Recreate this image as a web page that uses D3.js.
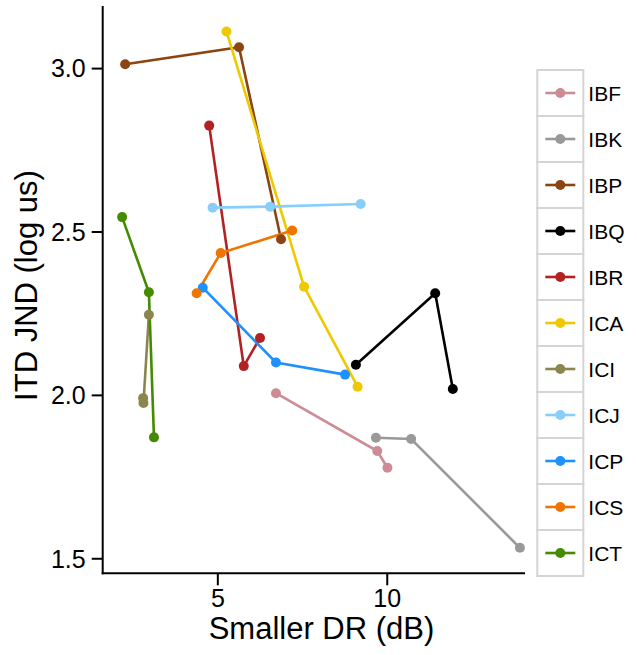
<!DOCTYPE html>
<html>
<head>
<meta charset="utf-8">
<script src="https://cdn.jsdelivr.net/npm/d3@7"></script>
<style>
  body { margin: 0; background: #fff; }
  text { font-family: 'Liberation Sans', Arial, sans-serif; fill: #000; }
</style>
</head>
<body>
<div id="chart"></div>
<script>
// Subjects and their colours
const subjects = ['IBF', 'IBK', 'IBP', 'IBQ', 'IBR', 'ICA', 'ICI', 'ICJ', 'ICP', 'ICS', 'ICT'];
const colors = ['#CD8C95', '#999999', '#8B4513', '#000000', '#B22222', '#EEC900',
  '#8B864E', '#87CEFA', '#1E90FF', '#EE7600', '#458B00'];

// Smaller DR (dB), one array per subject (same order as subjects)
const smallerDR = [
  [6.73, 9.72, 10.02],
  [9.68, 10.72, 13.93],
  [2.28, 5.64, 6.88],
  [9.09, 11.43, 11.95],
  [4.76, 5.78, 6.26],
  [5.27, 7.56, 9.14],
  [2.81, 2.82, 2.98],
  [4.86, 6.56, 9.23],
  [4.57, 6.73, 8.77],
  [4.39, 5.10, 7.21],
  [2.19, 2.98, 3.13]
];

// ITD JND (log us)
const itdJnd = [
  [2.005, 1.828, 1.777],
  [1.869, 1.865, 1.532],
  [3.012, 3.064, 2.476],
  [2.092, 2.311, 2.018],
  [2.824, 2.088, 2.174],
  [3.112, 2.331, 2.025],
  [1.990, 1.975, 2.245],
  [2.573, 2.576, 2.584],
  [2.328, 2.099, 2.062],
  [2.311, 2.434, 2.503],
  [2.544, 2.314, 1.870]
];

const xTicks = [5, 10];
const yTicks = [1.5, 2.0, 2.5, 3.0];

const svgW = 637;
const svgH = 655;
const plot = { left: 102.7, right: 525, top: 6, bottom: 573.3 };

const svg = d3.select('#chart').append('svg')
  .attr('width', svgW)
  .attr('height', svgH);

const x = d3.scaleLinear().domain([1.617, 14.08]).range([plot.left, plot.right]);
const y = d3.scaleLinear().domain([1.454, 3.19]).range([plot.bottom, plot.top]);

const series = subjects.map((s, i) => ({
  name: s,
  color: colors[i],
  points: smallerDR[i].map((v, j) => [v, itdJnd[i][j]])
}));

// Lines first, then points
const line = d3.line().x(d => x(d[0])).y(d => y(d[1]));
const gLines = svg.append('g').attr('class', 'lines');
series.forEach((s) => {
  gLines.append('path')
    .attr('d', line(s.points))
    .attr('fill', 'none')
    .attr('stroke', s.color)
    .attr('stroke-width', 2.6);
});
const gPts = svg.append('g').attr('class', 'points');
series.forEach((s) => {
  s.points.forEach((p) => {
    gPts.append('circle')
      .attr('cx', x(p[0]))
      .attr('cy', y(p[1]))
      .attr('r', 5)
      .attr('fill', s.color);
  });
});

// Axes
const xAxis = d3.axisBottom(x).tickValues(xTicks).tickSize(12).tickPadding(4).tickFormat(d3.format('d'));
const yAxis = d3.axisLeft(y).tickValues(yTicks).tickSize(11).tickPadding(6).tickFormat(d3.format('.1f'));

const gX = svg.append('g')
  .attr('transform', `translate(0,${plot.bottom})`)
  .call(xAxis);
const gY = svg.append('g')
  .attr('transform', `translate(${plot.left},0)`)
  .call(yAxis);

[gX, gY].forEach((g) => {
  g.select('.domain').remove();
  g.selectAll('.tick line').attr('stroke', '#000').attr('stroke-width', 2);
  g.selectAll('.tick text').style('font-size', '25px').attr('fill', '#000');
});
gX.selectAll('.tick text').attr('dy', '0.71em');
gY.selectAll('.tick text').attr('dy', '0.35em');

svg.append('line')
  .attr('x1', plot.left).attr('x2', plot.left)
  .attr('y1', plot.top).attr('y2', plot.bottom + 1)
  .attr('stroke', '#000').attr('stroke-width', 2);
svg.append('line')
  .attr('x1', plot.left - 1).attr('x2', plot.right)
  .attr('y1', plot.bottom).attr('y2', plot.bottom)
  .attr('stroke', '#000').attr('stroke-width', 2);

// Axis titles
svg.append('text')
  .attr('x', 321.5)
  .attr('y', 639)
  .attr('text-anchor', 'middle')
  .style('font-size', '31px')
  .text('Smaller DR (dB)');

svg.append('text')
  .attr('transform', 'translate(37,285.5) rotate(-90)')
  .attr('text-anchor', 'middle')
  .style('font-size', '31px')
  .text('ITD JND (log us)');

// Legend
const legendX = 537.3;
const legendY = 70;
const keySize = 46;
const gL = svg.append('g').attr('class', 'legend');
series.forEach((s, i) => {
  const ky = legendY + i * keySize;
  gL.append('rect')
    .attr('x', legendX)
    .attr('y', ky)
    .attr('width', keySize)
    .attr('height', keySize)
    .attr('fill', '#fff')
    .attr('stroke', '#d4d4d4')
    .attr('stroke-width', 2);
  gL.append('line')
    .attr('x1', legendX + 8)
    .attr('x2', legendX + keySize - 8)
    .attr('y1', ky + keySize / 2)
    .attr('y2', ky + keySize / 2)
    .attr('stroke', s.color)
    .attr('stroke-width', 2.6);
  gL.append('circle')
    .attr('cx', legendX + keySize / 2)
    .attr('cy', ky + keySize / 2)
    .attr('r', 5)
    .attr('fill', s.color);
  gL.append('text')
    .attr('x', legendX + keySize + 5)
    .attr('y', ky + keySize / 2)
    .attr('dy', '0.36em')
    .style('font-size', '21px')
    .text(s.name);
});
</script>
</body>
</html>
